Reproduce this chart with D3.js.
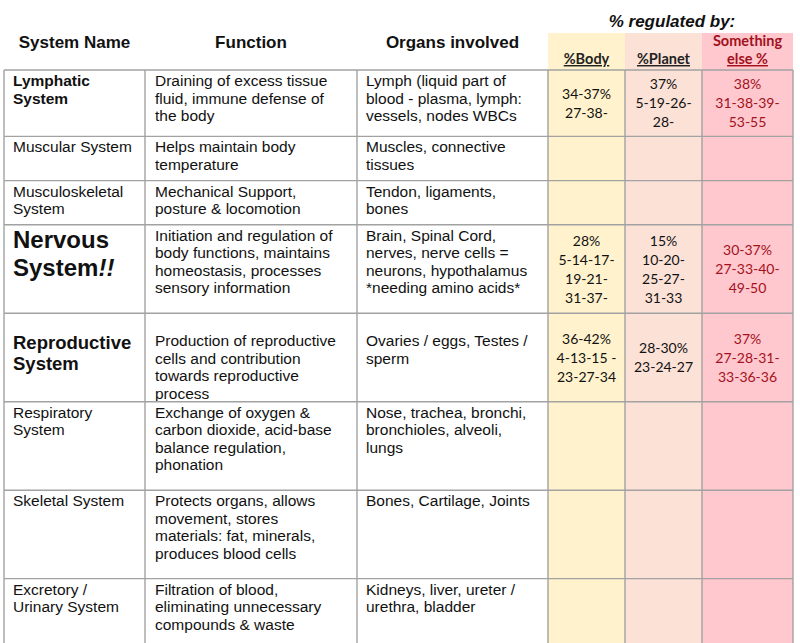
<!DOCTYPE html>
<html>
<head>
<meta charset="utf-8">
<script src="https://cdn.jsdelivr.net/npm/d3@7"></script>
<style>
  body { margin: 0; background: #fff; }
  svg { display: block; }
</style>
</head>
<body>
<svg id="chart"></svg>
<script>
// table content
const headers = ["System Name", "Function", "Organs involved"];
const pctTitle = "% regulated by:";
const pctHeaders = [["%Body"], ["%Planet"], ["Something", "else %"]];

const systemNames = [
  ["Lymphatic", "System"],
  ["Muscular System"],
  ["Musculoskeletal", "System"],
  ["Nervous", "System!!"],
  ["Reproductive", "System"],
  ["Respiratory", "System"],
  ["Skeletal System"],
  ["Excretory /", "Urinary System"]
];

const functions = [
  ["Draining of excess tissue", "fluid, immune defense of", "the body"],
  ["Helps maintain body", "temperature"],
  ["Mechanical Support,", "posture & locomotion"],
  ["Initiation and regulation of", "body functions, maintains", "homeostasis, processes", "sensory information"],
  ["Production of reproductive", "cells and contribution", "towards reproductive", "process"],
  ["Exchange of oxygen &", "carbon dioxide, acid-base", "balance regulation,", "phonation"],
  ["Protects organs, allows", "movement, stores", "materials:  fat, minerals,", "produces blood cells"],
  ["Filtration of blood,", "eliminating unnecessary", "compounds & waste"]
];

const organs = [
  ["Lymph (liquid part of", "blood - plasma, lymph:", "vessels, nodes WBCs"],
  ["Muscles, connective", "tissues"],
  ["Tendon, ligaments,", "bones"],
  ["Brain, Spinal Cord,", "nerves, nerve cells =", "neurons, hypothalamus", "*needing amino acids*"],
  ["Ovaries / eggs, Testes /", "sperm"],
  ["Nose, trachea, bronchi,", "bronchioles, alveoli,", "lungs"],
  ["Bones, Cartilage, Joints"],
  ["Kidneys, liver, ureter /", "urethra, bladder"]
];

const bodyPct = [
  ["34-37%", "27-38-"], [], [],
  ["28%", "5-14-17-", "19-21-", "31-37-"],
  ["36-42%", "4-13-15 -", "23-27-34"],
  [], [], []
];
const planetPct = [
  ["37%", "5-19-26-", "28-"], [], [],
  ["15%", "10-20-", "25-27-", "31-33"],
  ["28-30%", "23-24-27"],
  [], [], []
];
const otherPct = [
  ["38%", "31-38-39-", "53-55"], [], [],
  ["30-37%", "27-33-40-", "49-50"],
  ["37%", "27-28-31-", "33-36-36"],
  [], [], []
];

// layout
const W = 800, H = 643;
const arial = "'Liberation Sans', Arial, sans-serif";
const calibri = "Lato, 'Open Sans', sans-serif";
const red = "#a3111b";
const lineCol = "#a2a2a2";
const pctFills = ["#fff2cc", "#fce1d7", "#ffc7ce"];

const colKeys = ["name", "func", "organ", "body", "planet", "other", "end"];
const colX = d3.scaleOrdinal().domain(colKeys).range([4, 145, 357, 548, 625, 702, 793]);
const colW = k => colX(colKeys[colKeys.indexOf(k) + 1]) - colX(k);

const units = functions.map((f, i) => Math.max(f.length, organs[i].length, systemNames[i].length));
const cum = d3.cumsum(units);
const rowTop = i => y(i === 0 ? 0 : cum[i - 1]);
const rowBot = i => y(cum[i]);
const y = d3.scaleLinear().domain([0, d3.sum(units)]).range([70, 645]);

const lineH = 17.5;
const textShift = i => (i === 4 ? 33 : 16);
const nameStyle = i => {
  if (i === 3) return {size: 24, weight: "bold", lh: 28, first: 23};
  if (i === 4) return {size: 18.5, weight: "bold", lh: 21, first: 36};
  if (i === 0) return {size: 15.5, weight: "bold", lh: lineH, first: 16};
  return {size: 15.5, weight: "normal", lh: lineH, first: 16};
};

const svg = d3.select("#chart").attr("width", W).attr("height", H);

// coloured percentage columns (header + body)
const pctKeys = ["body", "planet", "other"];
svg.selectAll("rect.pct")
  .data(pctKeys)
  .join("rect")
  .attr("class", "pct")
  .attr("x", k => colX(k))
  .attr("y", 33)
  .attr("width", k => colW(k))
  .attr("height", H - 33)
  .attr("fill", (k, i) => pctFills[i]);

// header titles
svg.selectAll("text.hdr")
  .data(headers)
  .join("text")
  .attr("class", "hdr")
  .attr("x", (d, i) => colX(colKeys[i]) + colW(colKeys[i]) / 2)
  .attr("y", 48)
  .attr("text-anchor", "middle")
  .style("font-family", arial)
  .style("font-weight", "bold")
  .style("font-size", "17px")
  .attr("fill", "#111")
  .text(d => d);

svg.append("text")
  .attr("x", 672)
  .attr("y", 27)
  .attr("text-anchor", "middle")
  .style("font-family", arial)
  .style("font-weight", "bold")
  .style("font-style", "italic")
  .style("font-size", "17px")
  .attr("fill", "#111")
  .text(pctTitle);

pctHeaders.forEach((lines, ci) => {
  const k = pctKeys[ci];
  const t = svg.append("text")
    .attr("text-anchor", "middle")
    .style("font-family", calibri)
    .style("font-weight", "bold")
    .style("font-size", "14.5px")
    .attr("fill", ci === 2 ? red : "#222");
  lines.forEach((s, li) => {
    t.append("tspan")
      .attr("x", colX(k) + colW(k) / 2)
      .attr("y", 64 - (lines.length - 1 - li) * 18)
      .style("text-decoration", li === lines.length - 1 ? "underline" : "none")
      .text(s);
  });
});

// body rows
const rows = systemNames.map((n, i) => ({
  i, name: n, func: functions[i], organ: organs[i],
  pct: [bodyPct[i], planetPct[i], otherPct[i]]
}));

const row = svg.selectAll("g.row")
  .data(rows)
  .join("g")
  .attr("class", "row");

// system name
row.each(function(d) {
  const st = nameStyle(d.i);
  const t = d3.select(this).append("text")
    .style("font-family", arial)
    .style("font-size", st.size + "px")
    .style("font-weight", st.weight)
    .attr("fill", "#111");
  d.name.forEach((s, li) => {
    const ts = t.append("tspan")
      .attr("x", colX("name") + 9)
      .attr("y", rowTop(d.i) + st.first + li * st.lh);
    if (s.endsWith("!!")) {
      ts.text(s.slice(0, -2));
      t.append("tspan").style("font-style", "italic").text("!!");
    } else {
      ts.text(s);
    }
  });
});

// function and organs columns
[["func", 10], ["organ", 9]].forEach(([k, pad]) => {
  row.append("text")
    .style("font-family", arial)
    .style("font-size", "15.5px")
    .attr("fill", "#111")
    .selectAll("tspan")
    .data(d => d[k].map(s => ({s, i: d.i})))
    .join("tspan")
    .attr("x", colX(k) + pad)
    .attr("y", (d, li) => rowTop(d.i) + textShift(d.i) + li * lineH)
    .text(d => d.s);
});

// percentage cells, centred
pctKeys.forEach((k, ci) => {
  row.append("text")
    .attr("text-anchor", "middle")
    .style("font-family", calibri)
    .style("font-size", "14px")
    .attr("fill", ci === 2 ? red : "#111")
    .selectAll("tspan")
    .data(d => d.pct[ci].map((s, li, arr) => ({s, li, n: arr.length, i: d.i})))
    .join("tspan")
    .attr("x", colX(k) + colW(k) / 2)
    .attr("y", d => (rowTop(d.i) + rowBot(d.i)) / 2 + 5 + (d.li - (d.n - 1) / 2) * 19)
    .text(d => d.s);
});

// grid lines
const hy = [0, ...cum];
svg.selectAll("line.h")
  .data(hy)
  .join("line")
  .attr("class", "h")
  .attr("x1", colX("name"))
  .attr("x2", colX("end"))
  .attr("y1", d => y(d))
  .attr("y2", d => y(d))
  .attr("stroke", lineCol)
  .attr("stroke-width", 1.4);

svg.selectAll("line.v")
  .data(colKeys)
  .join("line")
  .attr("class", "v")
  .attr("x1", k => colX(k))
  .attr("x2", k => colX(k))
  .attr("y1", y(0))
  .attr("y2", H)
  .attr("stroke", lineCol)
  .attr("stroke-width", 1.4);
</script>
</body>
</html>
